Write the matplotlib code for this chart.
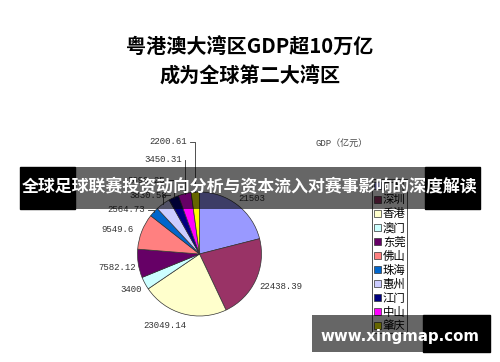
import matplotlib
matplotlib.use("Agg")
import matplotlib.pyplot as plt
from matplotlib.patches import Rectangle
import numpy as np

plt.rcParams['font.family'] = ['Noto Sans CJK SC', 'DejaVu Sans']

cities = ['广州', '深圳', '香港', '澳门', '东莞', '佛山', '珠海', '惠州', '江门', '中山', '肇庆']
gdp = [21503, 22438.39, 23049.14, 3400, 7582.12, 9549.6, 2564.73, 3830.58, 2690.25, 3450.31, 2200.61]
colors = ['#9999FF', '#993366', '#FFFFCC', '#CCFFFF', '#660066', '#FF8080',
          '#0066CC', '#CCCCFF', '#000080', '#FF00FF', '#FFFF00']

# label anchor positions (pie units, radius = 1) and alignment
label_pos = [(0.85, 0.90), (0.96, -0.53), (-0.56, -1.15), (-0.93, -0.58), (-1.02, -0.21),
             (-1.06, 0.39), (-0.88, 0.71), (-0.52, 0.95), (-0.56, 1.19), (-0.28, 1.52), (-0.20, 1.81)]
label_ha = ['center', 'left', 'center', 'right', 'right', 'right',
            'right', 'right', 'right', 'right', 'right']
leader = [False] * 6 + [True] * 5

W, H = 500, 362
fig = plt.figure(figsize=(W / 100, H / 100), dpi=100)
fig.patch.set_facecolor('white')

cx, cy, r = 199.5, 254, 62
ax = fig.add_axes([(cx - r) / W, (H - cy - r) / H, 2 * r / W, 2 * r / H])
wedges, _ = ax.pie(gdp, colors=colors, startangle=90, counterclock=False,
                   wedgeprops=dict(edgecolor='#333333', linewidth=0.5))
ax.set_xlim(-1, 1)
ax.set_ylim(-1, 1)
ax.set_aspect('equal')
ax.axis('off')

for w, v, (lx, ly), ha, ld in zip(wedges, gdp, label_pos, label_ha, leader):
    ax.text(lx, ly, str(v), ha=ha, va='center', fontsize=6.5, family='Liberation Mono',
            color='#333333', clip_on=False)
    if ld:
        mid = np.deg2rad((w.theta1 + w.theta2) / 2)
        wx, wy = np.cos(mid), np.sin(mid)
        x0 = lx + 0.05
        ax.plot([x0, wx, wx], [ly, ly, wy], color='#333333', lw=0.6, clip_on=False)

fig.text(315 / W, 1 - 143 / H, 'GDP（亿元）', fontsize=6.5, color='#444444',
         family=['Liberation Mono', 'Noto Sans CJK SC'], va='center', ha='left')

leg = fig.legend(wedges, cities, loc='upper left', bbox_to_anchor=(372 / W, 1 - 179 / H),
                 prop={'family': 'Noto Sans CJK SC', 'size': 8.2}, frameon=True, fancybox=False,
                 edgecolor='black', handlelength=0.6, handleheight=0.6, handletextpad=0.2,
                 labelspacing=0.26, borderpad=0.15, borderaxespad=0)
leg.get_frame().set_linewidth(0.6)

fig.text(0.5, 1 - 47 / H, '粤港澳大湾区GDP超10万亿', ha='center', va='center',
         fontsize=14.5, fontweight='bold', color='black')
fig.text(0.5, 1 - 76 / H, '成为全球第二大湾区', ha='center', va='center',
         fontsize=14.5, fontweight='bold', color='black')

# overlays: banner and watermark
ov = fig.add_axes([0, 0, 1, 1], zorder=10)
ov.set_xlim(0, W)
ov.set_ylim(H, 0)
ov.axis('off')
ov.patch.set_alpha(0)
ov.add_patch(Rectangle((20, 167), 55, 42, color='black'))
ov.add_patch(Rectangle((425, 167), 55, 42, color='black'))
ov.add_patch(Rectangle((75, 167), 350, 42, color='black', alpha=0.6, lw=0))
ov.text(250, 187, '全球足球联赛投资动向分析与资本流入对赛事影响的深度解读', ha='center', va='center',
        fontsize=12.2, fontweight='bold', color='white')
ov.add_patch(Rectangle((312, 315), 111, 37, color='black', alpha=0.6, lw=0))
ov.add_patch(Rectangle((423, 315), 67, 37, color='black'))
ov.text(400, 336, 'www.xingmap.com', ha='center', va='center', fontsize=10.8,
        fontweight='bold', color='white', family='DejaVu Sans')

fig.savefig('out.png', dpi=100)
